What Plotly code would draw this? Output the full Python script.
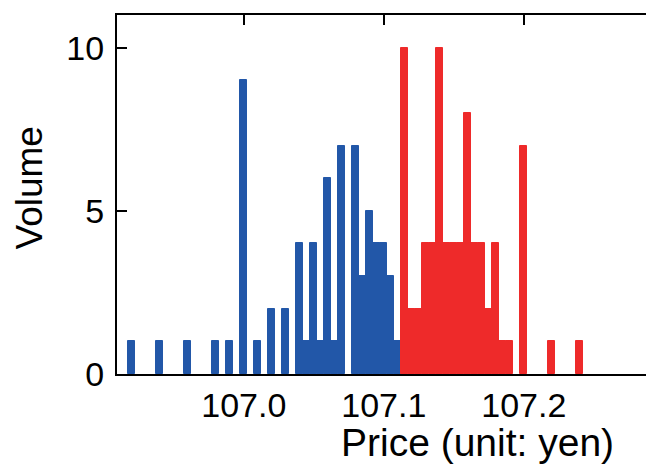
import plotly.graph_objects as go

# Bid side (blue)
bid_prices = [106.92, 106.94, 106.96, 106.98, 106.99, 107.00, 107.01, 107.02, 107.03,
              107.04, 107.045, 107.05, 107.055, 107.06, 107.065, 107.07, 107.08, 107.085,
              107.09, 107.095, 107.10, 107.105, 107.11]
bid_volume = [1, 1, 1, 1, 1, 9, 1, 2, 2,
              4, 1, 4, 1, 6, 1, 7, 7, 3,
              5, 4, 4, 3, 1]

# Ask side (red)
ask_prices = [107.115, 107.12, 107.125, 107.13, 107.135, 107.14, 107.145, 107.15, 107.155,
              107.16, 107.165, 107.17, 107.175, 107.18, 107.185, 107.19, 107.20, 107.22, 107.24]
ask_volume = [10, 2, 2, 4, 4, 10, 4, 4, 4,
              8, 4, 4, 2, 4, 1, 1, 7, 1, 1]

x_ticks = [107.0, 107.1, 107.2]
x_tick_labels = ["107.0", "107.1", "107.2"]
y_ticks = [0, 5, 10]

BLUE = "#2257a8"
RED = "#ee2a2a"
FONT = "Liberation Sans"

fig = go.Figure()
fig.add_trace(go.Bar(x=bid_prices, y=bid_volume, width=0.005,
                     marker=dict(color=BLUE, line=dict(color=BLUE, width=1)),
                     showlegend=False))
fig.add_trace(go.Bar(x=ask_prices, y=ask_volume, width=0.005,
                     marker=dict(color=RED, line=dict(color=RED, width=1)),
                     showlegend=False))

W, H = 646, 468
L, R, T, B = 117, 0, 15, 94

fig.update_layout(
    width=W, height=H,
    margin=dict(l=L, r=R, t=T, b=B, pad=0),
    paper_bgcolor="white", plot_bgcolor="white",
    barmode="overlay", bargap=0,
    font=dict(family=FONT, size=34, color="black"),
    xaxis=dict(
        range=[106.90943, 107.28729],
        tickvals=x_ticks, ticktext=x_tick_labels,
        ticks="inside", ticklen=10, tickwidth=1.5, tickcolor="black",
        showline=True, linewidth=2, linecolor="black", mirror="ticks",
        showgrid=False, zeroline=False, layer="below traces",
        tickfont=dict(size=34, family=FONT),
        ticklabelstandoff=0,
    ),
    yaxis=dict(
        range=[0, 11],
        tickvals=y_ticks,
        ticks="inside", ticklen=10, tickwidth=1.5, tickcolor="black",
        showline=True, linewidth=2, linecolor="black", mirror=False,
        showgrid=False, zeroline=False,
        tickfont=dict(size=34, family=FONT),
        ticklabelstandoff=4,
    ),
    yaxis2=dict(
        range=[0, 11], overlaying="y", side="right",
        tickvals=y_ticks, showticklabels=False,
        ticks="inside", ticklen=8, tickwidth=1.5, tickcolor="black",
        showline=False, showgrid=False, zeroline=False,
    ),
    annotations=[
        dict(text="Price (unit: yen)", xref="paper", yref="paper",
             x=(616 - L) / (W - L - R), y=(374.5 - 443) / (H - T - B),
             xanchor="right", yanchor="middle", showarrow=False,
             font=dict(size=39, family=FONT, color="black")),
        dict(text="Volume", xref="paper", yref="paper",
             x=(29 - L) / (W - L - R), y=(374.5 - 189) / (H - T - B),
             xanchor="center", yanchor="middle", textangle=-90, showarrow=False,
             font=dict(size=37, family=FONT, color="black")),
    ],
)

fig.write_html("out.html")
